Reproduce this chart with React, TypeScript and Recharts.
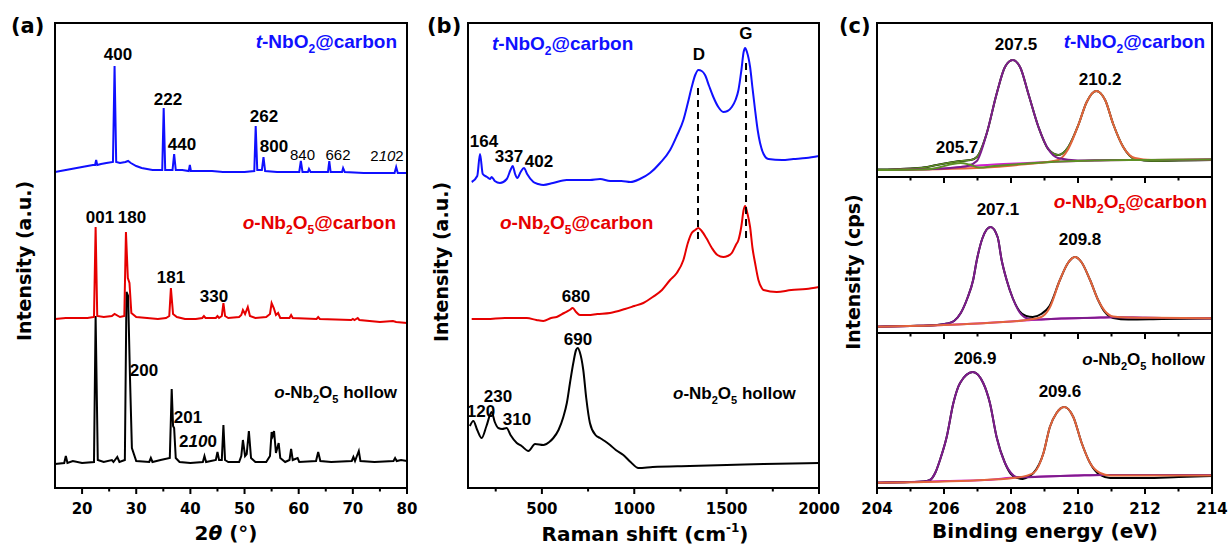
import React from 'react';
import { LineChart, Line, XAxis, YAxis, ReferenceDot, ReferenceLine } from 'recharts';

type Pt = [number, number];
type Peak = [number, number, string];

// ---------- (a) XRD: 2theta vs intensity (curves already offset) ----------
const xrdTNbO2: Pt[] = [
  [15, 316], [16, 317], [17, 318], [18, 319], [19, 320], [20, 321], [21, 322], [22, 323], [22.4, 323], [22.6, 328], [22.8, 323],
  [23.5, 324], [24.5, 325], [25.7, 326], [26.0, 422], [26.3, 326], [27, 325], [28, 326], [28.5, 327], [29, 325], [30, 322],
  [31, 320], [32, 319], [33, 318], [34, 318], [34.8, 318], [35.07, 380], [35.35, 318], [36.7, 318], [37.0, 334], [37.3, 318],
  [38.5, 318], [39.7, 317], [39.9, 323], [40.1, 317], [42, 317], [44, 317], [46, 316], [48, 316], [50, 316], [51.8, 317],
  [52.06, 362], [52.35, 318], [53.2, 318], [53.5, 331], [53.8, 317], [56, 316], [58, 316], [60.1, 316], [60.4, 327], [60.7, 316],
  [61.7, 316], [61.9, 319], [62.2, 316], [65.4, 316], [65.65, 327], [65.9, 316], [68.0, 316], [68.2, 320], [68.5, 316], [72, 315],
  [75, 315], [77.7, 315], [78.0, 321], [78.3, 315], [80, 315],
];
const xrdONb2O5C: Pt[] = [
  [15, 169], [17, 170], [19, 170], [21, 170], [22.2, 171], [22.5, 261], [22.8, 172], [24, 171], [25.5, 172], [26, 174], [27, 171],
  [27.8, 172], [28.1, 256], [28.45, 210], [28.75, 205], [29.1, 175], [30, 171], [32, 170], [34, 169], [35.5, 170], [36.1, 172],
  [36.4, 200], [36.8, 174], [37.5, 171], [39, 169], [41, 169], [42.2, 170], [42.5, 172], [42.8, 170], [44.7, 170], [45.0, 172],
  [45.3, 170], [45.8, 172], [46.1, 185], [46.4, 172], [47, 170], [49, 171], [49.4, 173], [49.7, 178], [50.1, 174], [50.6, 181],
  [51, 172], [52, 170], [54, 171], [54.7, 174], [55.0, 185], [55.4, 180], [55.8, 173], [56.2, 175], [56.6, 170], [58.3, 170],
  [58.6, 173], [58.9, 170], [63.3, 169], [63.6, 171], [63.9, 169], [69.7, 168], [70.0, 169], [70.3, 168], [70.9, 170], [71.2, 168],
  [75, 166], [77.4, 167], [78, 166], [80, 165],
];
const xrdONb2O5H: Pt[] = [
  [15, 24], [16.7, 25], [17.0, 32], [17.3, 25], [18.3, 27], [20, 25], [22.2, 26], [22.5, 172], [22.9, 28], [24, 26], [25.5, 28],
  [25.8, 26], [26.5, 31], [26.9, 26], [27.9, 28], [28.2, 196], [28.5, 192], [28.85, 110], [29.2, 40], [30, 27], [32.4, 26],
  [32.7, 30], [33, 26], [34.5, 28], [36.2, 30], [36.55, 99], [36.8, 62], [37.0, 60], [37.3, 30], [38, 26], [40, 25], [42.3, 26],
  [42.6, 32], [42.9, 26], [44.7, 28], [45.0, 36], [45.3, 28], [45.8, 28], [46.1, 63], [46.4, 28], [47, 26], [49, 26], [49.4, 32],
  [49.7, 48], [50.1, 32], [50.4, 34], [50.8, 57], [51.2, 30], [52, 26], [54, 26], [54.7, 32], [55.0, 56], [55.2, 52], [55.45, 57],
  [55.8, 35], [56.3, 45], [56.6, 30], [57.5, 26], [58.3, 28], [58.6, 39], [58.9, 28], [59.8, 30], [60.1, 26], [63.2, 27], [63.6, 36],
  [64.0, 27], [66, 26], [69.8, 27], [70.1, 31], [70.4, 27], [71.1, 37], [71.4, 27], [74, 26], [77.5, 27], [77.8, 30], [78.1, 27],
  [78.9, 28], [80, 27],
];
const xrdTicks = [20, 25, 30, 35, 40, 45, 50, 55, 60, 65, 70, 75, 80];
const xrdMajor = [20, 30, 40, 50, 60, 70, 80];
const xrdPeaksBold: Peak[] = [
  [26.63, 428, '400'], [35.87, 383, '222'], [38.45, 338, '440'], [53.59, 366, '262'], [55.44, 336, '800'],
  [23.31, 265, '001'], [29.22, 265, '180'], [36.42, 205, '181'], [44.36, 186, '330'],
  [31.43, 112, '200'], [39.56, 65, '201'], [41.41, 41, '2_10_0'],
];
const xrdPeaksThin: Peak[] = [[60.7, 328, '840'], [67.26, 328, '662'], [76.31, 327, '2_10_2']];

// ---------- (b) Raman ----------
const ramanTNbO2: Pt[] = [
  [120, 306], [150, 312], [165, 334], [180, 314], [203, 311], [219, 309], [228, 311], [245, 307], [273, 305], [310, 309], [330, 318],
  [342, 322], [355, 314], [367, 310], [385, 316], [403, 320], [420, 314], [454, 306], [480, 304], [508, 303], [560, 305], [634, 308],
  [700, 308], [760, 308], [815, 309], [870, 307], [930, 307], [980, 306], [1030, 309], [1085, 315], [1140, 325], [1194, 338],
  [1230, 352], [1266, 368], [1290, 385], [1311, 401], [1330, 413], [1347, 418], [1365, 417], [1383, 413], [1405, 402], [1428, 391],
  [1455, 381], [1482, 376], [1505, 377], [1528, 381], [1548, 388], [1564, 398], [1580, 418], [1592, 436], [1600, 440], [1610, 436],
  [1627, 421], [1640, 400], [1654, 378], [1668, 358], [1681, 345], [1700, 334], [1726, 329], [1800, 328], [1861, 329], [1930, 330],
  [2000, 332],
];
const ramanONb2O5C: Pt[] = [
  [120, 169], [200, 169], [300, 170], [418, 170], [470, 168], [508, 167], [550, 170], [580, 171], [620, 175], [650, 178], [667, 180],
  [685, 176], [706, 173], [750, 173], [800, 174], [869, 175], [950, 179], [1000, 182], [1049, 185], [1100, 191], [1150, 198],
  [1194, 208], [1230, 215], [1266, 228], [1290, 245], [1311, 255], [1330, 258], [1347, 260], [1365, 257], [1390, 250], [1420, 240],
  [1450, 233], [1482, 231], [1505, 232], [1528, 235], [1550, 243], [1564, 248], [1580, 262], [1592, 278], [1600, 282], [1612, 275],
  [1627, 261], [1640, 240], [1654, 225], [1672, 208], [1690, 200], [1700, 198], [1771, 196], [1850, 198], [1930, 199], [2000, 201],
];
const ramanONb2O5H: Pt[] = [
  [110, 62], [129, 67], [150, 58], [174, 50], [200, 62], [228, 76], [245, 66], [264, 60], [285, 59], [309, 60], [330, 53], [364, 45],
  [390, 42], [427, 37], [463, 44], [508, 43], [540, 46], [562, 50], [590, 58], [616, 71], [635, 85], [652, 105], [670, 125],
  [685, 138], [694, 140], [705, 136], [724, 118], [740, 90], [760, 65], [790, 53], [815, 50], [840, 47], [869, 43], [900, 38],
  [941, 33], [980, 26], [1022, 20], [1100, 21], [1300, 22], [1500, 23], [1700, 24], [2000, 25],
];
const ramanTicks = [250, 500, 750, 1000, 1250, 1500, 1750, 2000];
const ramanMajor = [500, 1000, 1500, 2000];
const ramanBands: Pt[] = [[1345, 400], [1605, 425]];
const ramanBandLow = 245;
const ramanPeaks: Peak[] = [
  [186.6, 341, '164'], [321.9, 326, '337'], [484.3, 321, '402'], [1350.4, 428, 'D'], [1604.8, 449, 'G'],
  [684.6, 186, '680'], [695.4, 143, '690'], [262.4, 86, '230'], [170.4, 71, '120'], [365.2, 63, '310'],
];

// ---------- (c) XPS Nb 3d ----------
const xpsTopEnv: Pt[] = [
  [204, 7.4], [205, 8.5], [205.5, 10], [205.78, 12], [206.1, 14], [206.48, 16], [206.8, 17], [206.98, 20], [207.27, 43], [207.57, 83],
  [207.82, 110], [208.05, 117], [208.27, 110], [208.52, 83], [208.82, 50], [209.11, 28], [209.41, 22], [209.71, 30], [210.01, 52],
  [210.26, 75], [210.54, 86], [210.81, 77], [211.05, 53], [211.35, 30], [211.7, 18], [212.25, 16], [213, 16.5], [214, 17],
];
const xpsTopBg: Pt[] = [[204, 7], [205, 7.5], [206, 8.5], [206.8, 11], [207.5, 12.5], [208.5, 14], [209.5, 15.5], [210.5, 16.5], [211.5, 17], [212.5, 17], [214, 17.5]];
const xpsTopP1: Pt[] = [
  [204, 7], [205, 7.5], [206, 8.5], [206.5, 10], [206.7, 11], [206.98, 16], [207.27, 43], [207.57, 83], [207.82, 110], [208.05, 117],
  [208.27, 110], [208.52, 83], [208.82, 50], [209.11, 28], [209.4, 19], [210, 16.5], [211, 17], [212, 17], [214, 17.5],
];
const xpsTopP2: Pt[] = [
  [204, 7], [206, 8], [207.5, 10], [208.5, 13], [209.1, 15], [209.41, 17], [209.71, 28], [210.01, 52], [210.26, 75], [210.54, 86],
  [210.81, 77], [211.05, 53], [211.35, 30], [211.7, 19], [212.2, 17], [214, 17.5],
];
const xpsTopP3: Pt[] = [
  [204, 7], [205.5, 7.8], [205.9, 10], [206.25, 13], [206.5, 14], [206.75, 12.5], [207.05, 9.5], [207.5, 11], [208.5, 13.5],
  [209.5, 15.5], [210.5, 16.5], [212, 17], [214, 17.5],
];
const xpsMidEnv: Pt[] = [
  [204, 6.3], [205, 7], [205.8, 8], [206.1, 9.5], [206.3, 12], [206.5, 20], [206.7, 35], [206.87, 53], [206.98, 73], [207.15, 95],
  [207.39, 106], [207.6, 96], [207.72, 73], [207.87, 53], [208.05, 35], [208.25, 22], [208.45, 17], [208.65, 16], [208.9, 19],
  [209.15, 27], [209.46, 53], [209.7, 70], [209.91, 76], [210.1, 71], [210.36, 53], [210.6, 33], [210.8, 21], [211.05, 15],
  [211.5, 13.5], [212.5, 14], [214, 14.5],
];
const xpsMidBg: Pt[] = [[204, 6.3], [205, 7], [206, 8], [207, 9.5], [208, 11.5], [208.6, 13], [209.5, 14.5], [210.5, 15.3], [211, 15.7], [212, 15.3], [214, 14.7]];
const xpsMidP1: Pt[] = [
  [204, 6.3], [205, 7], [205.8, 8], [206.1, 9.5], [206.3, 12], [206.5, 20], [206.7, 35], [206.87, 53], [206.98, 73], [207.15, 95],
  [207.39, 106], [207.6, 96], [207.72, 73], [207.87, 53], [208.05, 35], [208.25, 21], [208.45, 15], [208.7, 13.5], [209.5, 14.5],
  [210.5, 15.3], [211, 15.7], [212, 15.3], [214, 14.7],
];
const xpsMidP2: Pt[] = [
  [204, 6.3], [206, 8], [207.5, 10.5], [208.47, 13], [208.9, 16], [209.15, 25], [209.46, 53], [209.7, 70], [209.91, 76], [210.1, 71],
  [210.36, 53], [210.6, 33], [210.8, 22], [211.05, 16.5], [211.5, 15.5], [212, 15.3], [214, 14.7],
];
const xpsBotEnv: Pt[] = [
  [204, 5.3], [205, 6], [205.4, 6.5], [205.58, 8], [205.75, 16], [205.88, 28], [206.08, 51], [206.28, 85], [206.48, 105],
  [206.86, 116], [207.17, 105], [207.37, 85], [207.57, 51], [207.82, 25], [208.0, 14], [208.2, 10], [208.35, 9], [208.55, 12],
  [208.67, 15], [208.97, 35], [209.16, 61], [209.36, 75], [209.59, 81], [209.86, 71], [210.11, 45], [210.36, 25], [210.66, 13],
  [210.96, 10], [212, 10], [213, 11], [214, 12],
];
const xpsBotBg: Pt[] = [[204, 5.3], [205, 6], [206, 7], [207.2, 8], [208.2, 10.7], [209, 11.5], [210, 12.5], [210.7, 13], [214, 13]];
const xpsBotP1: Pt[] = [
  [204, 5.3], [205, 6], [205.4, 6.5], [205.58, 8], [205.75, 16], [205.88, 28], [206.08, 51], [206.28, 85], [206.48, 105],
  [206.86, 116], [207.17, 105], [207.37, 85], [207.57, 51], [207.82, 25], [208.0, 15], [208.17, 11], [208.5, 10.8], [209, 11.5],
  [210, 12.5], [210.7, 13], [214, 13],
];
const xpsBotP2: Pt[] = [
  [204, 5.3], [206, 6.5], [207.2, 8], [208.2, 10.5], [208.67, 15], [208.97, 35], [209.16, 61], [209.36, 75], [209.59, 81],
  [209.86, 71], [210.11, 45], [210.36, 25], [210.66, 15], [210.96, 12.5], [212, 12.5], [214, 12.5],
];
const xpsTicks = [204, 205, 206, 207, 208, 209, 210, 211, 212, 213, 214];
const xpsMajor = [204, 206, 208, 210, 212, 214];
const xpsPeaksTop: Peak[] = [[208.15, 127, '207.5'], [210.66, 92, '210.2'], [206.39, 24, '205.7']];
const xpsPeaksMid: Peak[] = [[207.61, 118, '207.1'], [210.06, 88, '209.8']];
const xpsPeaksBot: Peak[] = [[206.93, 124, '206.9'], [209.46, 91, '209.6']];

const W = 1231;
const H = 547;
const BLUE = '#1010ff';
const RED = '#e60000';
const PURPLE = '#7d1c8c';
const ORANGE = '#e2643c';
const GREEN = '#5e8f24';
const MAGENTA = '#d020d0';
const ARIAL = "'Liberation Sans', Arial, sans-serif";
const DEJAVU = "'DejaVu Sans', sans-serif";

const toPts = (a: Pt[]) => a.map(([x, y]) => ({ x, y }));

const makeTick = (majors: number[], labels: boolean) => (props: any) => {
  const { x, y, payload } = props;
  const major = majors.includes(payload.value);
  return (
    <g>
      <line x1={x} x2={x} y1={y} y2={y + (major ? 6 : 3.5)} stroke="#000" strokeWidth={2} />
      {labels && major && (
        <text x={x} y={y + 26} textAnchor="middle" fontFamily={DEJAVU} fontWeight="bold" fontSize={15} fill="#000">
          {payload.value}
        </text>
      )}
    </g>
  );
};

const PeakText = ({ viewBox, text, size, weight }: any) => {
  const parts = String(text).split('_');
  return (
    <text x={viewBox.x} y={viewBox.y} textAnchor="middle" fontFamily={ARIAL} fontWeight={weight} fontSize={size} fill="#000">
      {parts.map((p, i) => (
        <tspan key={i} fontStyle={i % 2 ? 'italic' : 'normal'}>{p}</tspan>
      ))}
    </text>
  );
};

type Series = { data: Pt[]; color: string; type?: 'linear' | 'monotone'; width?: number };

const peakDots = (peaks: Peak[], size: number, weight: string) =>
  peaks.map(([x, y, t], i) => (
    <ReferenceDot
      key={`${t}-${i}`}
      x={x}
      y={y}
      r={0}
      fill="none"
      stroke="none"
      label={(p: any) => <PeakText viewBox={p.viewBox} text={t} size={size} weight={weight} />}
    />
  ));

function Plot({ box, xDomain, yMax, ticks, majors, labels, series, children }: any) {
  const [l, t, r, b] = box;
  return (
    <div style={{ position: 'absolute', left: 0, top: 0 }}>
      <LineChart width={W} height={H} margin={{ left: l, top: t, right: W - r, bottom: H - b - 30 }}>
        <XAxis
          type="number"
          dataKey="x"
          domain={xDomain}
          allowDataOverflow
          ticks={ticks}
          interval={0}
          tickSize={0}
          tickMargin={0}
          axisLine={false}
          tickLine={false}
          height={30}
          tick={makeTick(majors, labels)}
        />
        <YAxis hide type="number" dataKey="y" domain={[0, yMax]} allowDataOverflow />
        {series.map((s: Series, i: number) => (
          <Line
            key={i}
            data={toPts(s.data)}
            dataKey="y"
            type={s.type ?? 'linear'}
            stroke={s.color}
            strokeWidth={s.width ?? 2}
            dot={false}
            activeDot={false}
            isAnimationActive={false}
          />
        ))}
        {children}
      </LineChart>
    </div>
  );
}

const Frame = ({ l, t, r, b }: any) => (
  <div
    style={{
      position: 'absolute', left: l - 1, top: t - 1, width: r - l + 2, height: b - t + 2,
      border: '2px solid #000', boxSizing: 'border-box',
    }}
  />
);

const Name = ({ x, y, anchor, color, size, kind }: any) => {
  const s = Math.round(size * 0.65);
  return (
    <text x={x} y={y} textAnchor={anchor} fontFamily={ARIAL} fontWeight="bold" fontSize={size} fill={color}>
      {kind === 't' ? (
        <>
          <tspan fontStyle="italic">t</tspan>
          <tspan>-NbO</tspan>
          <tspan fontSize={s} dy={5}>2</tspan>
          <tspan dy={-5}>@carbon</tspan>
        </>
      ) : (
        <>
          <tspan fontStyle="italic">o</tspan>
          <tspan>-Nb</tspan>
          <tspan fontSize={s} dy={5}>2</tspan>
          <tspan dy={-5}>O</tspan>
          <tspan fontSize={s} dy={5}>5</tspan>
          <tspan dy={-5}>{kind === 'oc' ? '@carbon' : '\u00a0hollow'}</tspan>
        </>
      )}
    </text>
  );
};

export default function App() {
  return (
    <div style={{ position: 'absolute', left: 0, top: 0, width: W, height: H, background: '#fff' }}>
      {/* (a) XRD */}
      <Plot
        box={[55, 23, 407, 488]}
        xDomain={[15, 80]}
        yMax={465}
        ticks={xrdTicks}
        majors={xrdMajor}
        labels
        series={[
          { data: xrdONb2O5H, color: '#000' },
          { data: xrdONb2O5C, color: RED },
          { data: xrdTNbO2, color: BLUE },
        ]}
      >
        {peakDots(xrdPeaksBold, 17, 'bold')}
        {peakDots(xrdPeaksThin, 15, 'normal')}
      </Plot>

      {/* (b) Raman */}
      <Plot
        box={[468, 23, 819, 488]}
        xDomain={[100, 2000]}
        yMax={465}
        ticks={ramanTicks}
        majors={ramanMajor}
        labels
        series={[
          { data: ramanONb2O5H, color: '#000', type: 'monotone' },
          { data: ramanONb2O5C, color: RED, type: 'monotone' },
          { data: ramanTNbO2, color: BLUE, type: 'monotone' },
        ]}
      >
        {ramanBands.map(([x, y]) => (
          <ReferenceLine
            key={x}
            segment={[{ x, y }, { x, y: ramanBandLow }]}
            stroke="#000"
            strokeWidth={2}
            strokeDasharray="7 5"
          />
        ))}
        {peakDots(ramanPeaks, 17, 'bold')}
      </Plot>

      {/* (c) XPS */}
      <Plot
        box={[877, 23, 1212, 177]}
        xDomain={[204, 214]}
        yMax={154}
        ticks={xpsTicks}
        majors={xpsMajor}
        labels={false}
        series={[
          { data: xpsTopBg, color: MAGENTA, type: 'monotone' },
          { data: xpsTopEnv, color: '#000', type: 'monotone' },
          { data: xpsTopEnv, color: GREEN, type: 'monotone', width: 1.6 },
          { data: xpsTopP2, color: ORANGE, type: 'monotone' },
          { data: xpsTopP1, color: PURPLE, type: 'monotone' },
          { data: xpsTopP3, color: GREEN, type: 'monotone' },
        ]}
      >
        {peakDots(xpsPeaksTop, 17, 'bold')}
      </Plot>
      <Plot
        box={[877, 177, 1212, 333]}
        xDomain={[204, 214]}
        yMax={156}
        ticks={xpsTicks}
        majors={xpsMajor}
        labels={false}
        series={[
          { data: xpsMidBg, color: MAGENTA, type: 'monotone' },
          { data: xpsMidEnv, color: '#000', type: 'monotone' },
          { data: xpsMidP1, color: PURPLE, type: 'monotone' },
          { data: xpsMidP2, color: ORANGE, type: 'monotone' },
        ]}
      >
        {peakDots(xpsPeaksMid, 17, 'bold')}
      </Plot>
      <Plot
        box={[877, 333, 1212, 488]}
        xDomain={[204, 214]}
        yMax={155}
        ticks={xpsTicks}
        majors={xpsMajor}
        labels
        series={[
          { data: xpsBotBg, color: MAGENTA, type: 'monotone' },
          { data: xpsBotEnv, color: '#000', type: 'monotone' },
          { data: xpsBotP1, color: PURPLE, type: 'monotone' },
          { data: xpsBotP2, color: ORANGE, type: 'monotone' },
        ]}
      >
        {peakDots(xpsPeaksBot, 17, 'bold')}
      </Plot>

      <Frame l={55} t={23} r={407} b={488} />
      <Frame l={468} t={23} r={819} b={488} />
      <Frame l={877} t={23} r={1212} b={488} />
      <div style={{ position: 'absolute', left: 877, top: 176, width: 335, height: 2, background: '#000' }} />
      <div style={{ position: 'absolute', left: 877, top: 332, width: 335, height: 2, background: '#000' }} />

      <svg width={W} height={H} style={{ position: 'absolute', left: 0, top: 0 }}>
        <g fontFamily={DEJAVU} fontWeight="bold" fill="#000">
          <text x={11} y={33} fontSize={21}>(a)</text>
          <text x={427} y={33} fontSize={21}>(b)</text>
          <text x={839} y={33} fontSize={21}>(c)</text>

          <text x={226} y={540} fontSize={20} textAnchor="middle">
            <tspan>2</tspan>
            <tspan fontStyle="italic">θ</tspan>
            <tspan>{'\u00a0(°)'}</tspan>
          </text>
          <text x={645} y={541} fontSize={20} textAnchor="middle">
            <tspan>Raman shift (cm</tspan>
            <tspan fontSize={12} dy={-9}>-1</tspan>
            <tspan dy={9}>)</tspan>
          </text>
          <text x={1045} y={538} fontSize={20} textAnchor="middle">Binding energy (eV)</text>

          <text x={31} y={261} fontSize={19} textAnchor="middle" transform="rotate(-90 31 261)">Intensity (a.u.)</text>
          <text x={448} y={262} fontSize={19} textAnchor="middle" transform="rotate(-90 448 262)">Intensity (a.u.)</text>
          <text x={860} y={272} fontSize={19} textAnchor="middle" transform="rotate(-90 860 272)">Intensity (cps)</text>
        </g>

        <Name x={397} y={48} anchor="end" color={BLUE} size={19} kind="t" />
        <Name x={396} y={229} anchor="end" color={RED} size={19} kind="oc" />
        <Name x={397} y={398} anchor="end" color="#000" size={17} kind="oh" />

        <Name x={492} y={50} anchor="start" color={BLUE} size={19} kind="t" />
        <Name x={500} y={229} anchor="start" color={RED} size={19} kind="oc" />
        <Name x={673} y={399} anchor="start" color="#000" size={17} kind="oh" />

        <Name x={1205} y={48} anchor="end" color={BLUE} size={19} kind="t" />
        <Name x={1207} y={208} anchor="end" color={RED} size={19} kind="oc" />
        <Name x={1205} y={365} anchor="end" color="#000" size={17} kind="oh" />
      </svg>
    </div>
  );
}
